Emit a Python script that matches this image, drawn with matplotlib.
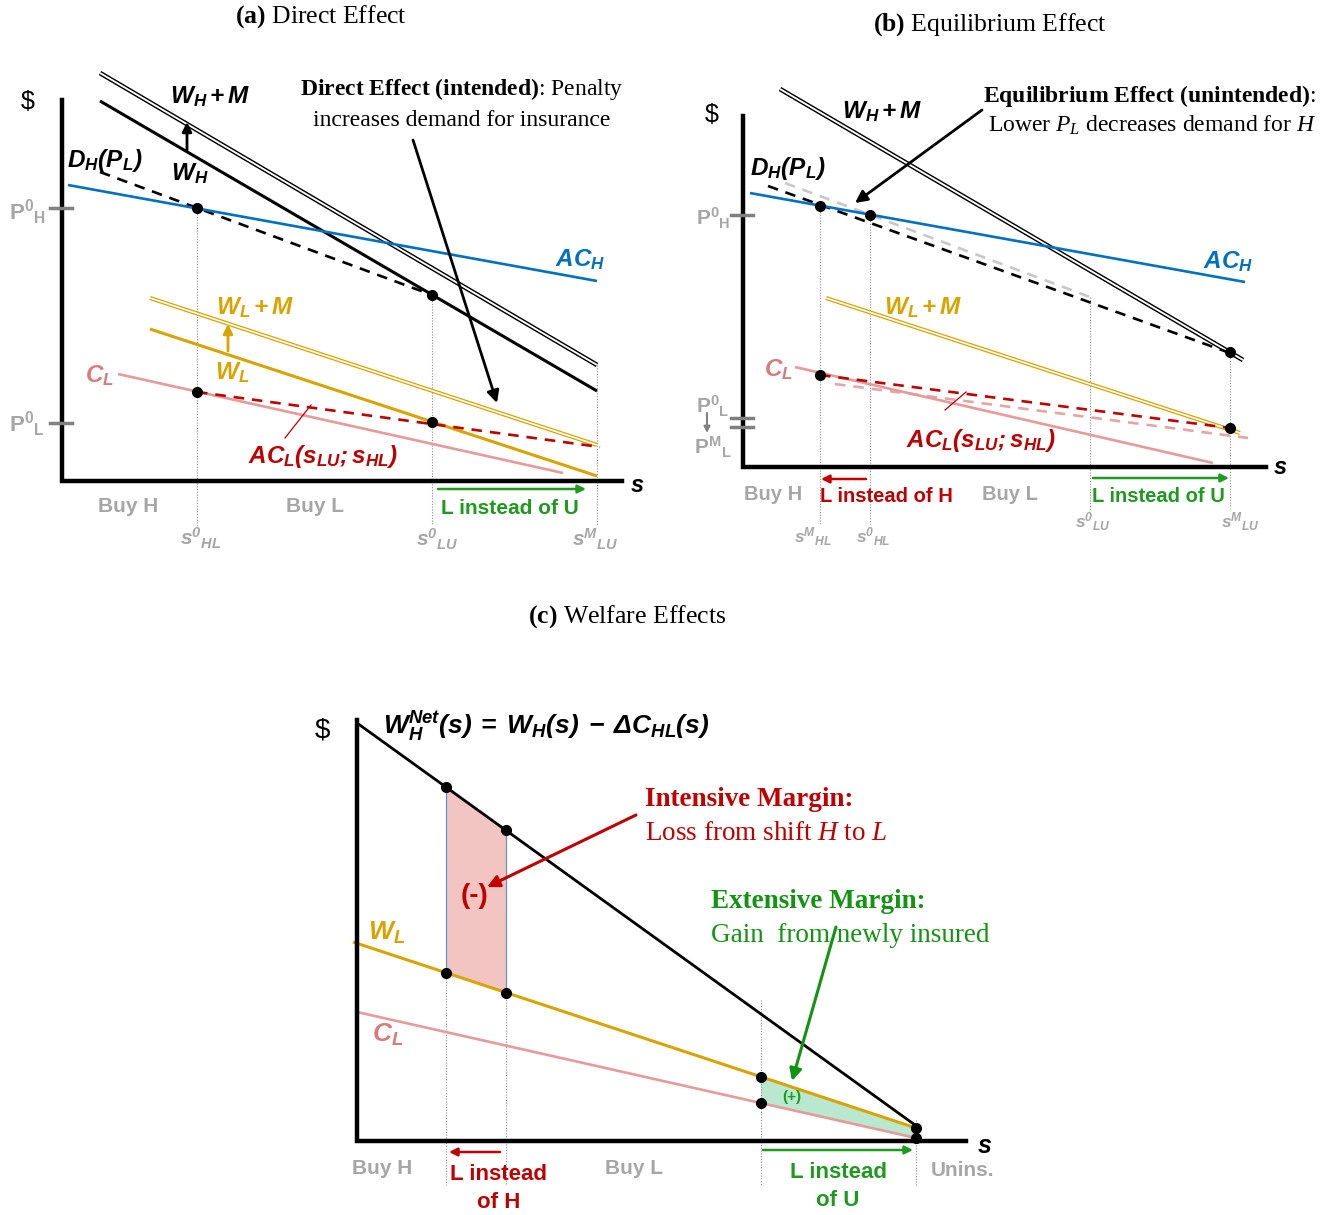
import numpy as np
import matplotlib
matplotlib.use('Agg')
import matplotlib.pyplot as plt
from matplotlib.patches import Polygon

plt.rcParams['font.family'] = ['Liberation Serif', 'DejaVu Serif']
plt.rcParams['mathtext.fontset'] = 'custom'
plt.rcParams['mathtext.rm'] = 'Liberation Serif'
plt.rcParams['mathtext.it'] = 'Liberation Serif:italic'
plt.rcParams['mathtext.bf'] = 'Liberation Serif:bold'
plt.rcParams['mathtext.sf'] = 'Liberation Sans:bold:italic'
plt.rcParams['mathtext.tt'] = 'Liberation Sans:bold'

# colours
BLUE = '#0070C0'
GOLD = '#D9A300'
PINK = '#E89A9A'
PINKTXT = '#D97B7B'
RED = '#C00000'
GREEN = '#1E9A1E'
GRAY = '#A6A6A6'

# ---- panel (a) curves: ([s0, s1], [$0, $1]) in picture units
a_WHM = ([100, 597], [73, 365])
a_WH = ([100, 597], [101, 391])
a_DH = ([100, 432], [172, 295])
a_ACH = ([68, 597], [185, 281])
a_WLM = ([150, 597], [298, 445])
a_WL = ([150, 597], [329, 476])
a_CL = ([118, 563], [374, 473])
a_ACL = ([197, 600], [392, 447])
a_s = [197, 432, 597]          # s0_HL, s0_LU, sM_LU
a_P = [208, 423]               # P0_H, P0_L

# ---- panel (b)
b_WHM = ([780, 1243], [89, 360])
b_DH = ([768, 1230], [186, 353])
b_DH0 = ([785, 1090], [183, 297])
b_ACH = ([750, 1245], [193, 282])
b_WLM = ([826, 1240], [298, 433])
b_CL = ([795, 1213], [367, 463])
b_ACL = ([820, 1230], [375, 428])
b_ACL0 = ([835, 1248], [384, 438])
b_s = [820, 870, 1090, 1230]   # sM_HL, s0_HL, s0_LU, sM_LU
b_P = [215, 418, 427]          # P0_H, P0_L, PM_L

# ---- panel (c)
c_WHN = ([357, 915], [723, 1125])
c_WL = ([353, 916], [942, 1128])
c_CL = ([357, 916], [1012, 1138])
c_s = [446, 506, 761, 916]

fig = plt.figure(figsize=(13.37, 12.15), dpi=100)
ax = fig.add_axes([0, 0, 1, 1])
ax.set_xlim(0, 1337)
ax.set_ylim(1215, 0)
ax.axis('off')


def at(line, s):
    return np.interp(s, line[0], line[1])


def line(l, color, lw=1.9, ls='-', z=3):
    ax.plot(l[0], l[1], color=color, lw=lw, ls=ls, zorder=z, solid_capstyle='butt')


def dline(l, color, w=3.4):
    ax.plot(l[0], l[1], color=color, lw=w, zorder=3, solid_capstyle='butt')
    ax.plot(l[0], l[1], color='white', lw=w * 0.4, zorder=3, solid_capstyle='butt')


def dot(x, y):
    ax.plot(x, y, 'o', color='black', ms=7, zorder=6)


def vdot(x, y0, y1):
    ax.plot([x, x], [y0, y1], color='#8c8c8c', lw=0.8, ls=(0, (1, 1.5)), zorder=2)


def arrow(x0, y0, x1, y1, color, lw=1.8, ms=16):
    ax.annotate('', xy=(x1, y1), xytext=(x0, y0),
                arrowprops=dict(arrowstyle='-|>', color=color, lw=lw,
                                mutation_scale=ms, shrinkA=0, shrinkB=0), zorder=5)


def axes_lines(x0, y0, y1, x1):
    ax.plot([x0, x0, x1], [y0, y1, y1], color='black', lw=3.2, zorder=4,
            solid_joinstyle='miter')


def t(x, y, s, color='black', size=16, ha='center', **kw):
    ax.text(x, y, s, color=color, fontsize=size, ha=ha, va='center', **kw)


def sans(x, y, s, color, size=14):
    t(x, y, s, color=color, size=size, family='Liberation Sans', weight='bold')


def tick(y, x):
    ax.plot([x - 12, x + 10], [y, y], color='#808080', lw=2.5, zorder=5)


# ================= panel (a)
t(321, 17, r'$\mathbf{(a)}$ Direct Effect', size=18.5)
axes_lines(62, 100, 481, 622)
t(28, 102, '$', size=18, family='Liberation Sans')
t(637, 486, r'$\mathsf{s}$', size=17)
for p in a_P:
    tick(p, 62)
t(27, 212, r'$\mathtt{P^0{}_H}$', color=GRAY, size=16)
t(27, 424, r'$\mathtt{P^0{}_L}$', color=GRAY, size=16)

vdot(a_s[0], at(a_ACH, a_s[0]), 526)
vdot(a_s[1], at(a_DH, a_s[1]), 524)
vdot(a_s[2], at(a_WHM, a_s[2]), 526)

dline(a_WHM, 'black')
line(a_WH, 'black', lw=2.2)
line(a_DH, 'black', lw=1.9, ls=(0, (4, 3)))
line(a_ACH, BLUE)
dline(a_WLM, GOLD, w=3.0)
line(a_WL, GOLD, lw=2.2)
line(a_CL, PINK, lw=1.9)
line(a_ACL, RED, lw=1.9, ls=(0, (4, 3)))

dot(a_s[0], at(a_ACH, a_s[0]))
dot(a_s[1], at(a_DH, a_s[1]))
dot(a_s[0], at(a_ACL, a_s[0]))
dot(a_s[1], at(a_WL, a_s[1]))

arrow(187, 150, 187, 122, 'black', lw=2.0, ms=14)
arrow(228, 351, 228, 324, GOLD, lw=2.0, ms=14)
arrow(413, 140, 497, 403, 'black', lw=2.0, ms=18)
ax.plot([285, 311], [438, 405], color=RED, lw=0.9, zorder=3)

t(210, 97, r'$\mathsf{W_H + M}$', size=17.5)
t(190, 174, r'$\mathsf{W_H}$', size=17.5)
t(105, 160, r'$\mathsf{D_H(P_L)}$', size=17.5)
t(580, 260, r'$\mathsf{AC_H}$', color=BLUE, size=17.5)
t(255, 308, r'$\mathsf{W_L + M}$', color=GOLD, size=17.5)
t(232, 373, r'$\mathsf{W_L}$', color=GOLD, size=17.5)
t(100, 376, r'$\mathsf{C_L}$', color=PINKTXT, size=17.5)
t(323, 457, r'$\mathsf{AC_L(s_{LU};s_{HL})}$', color=RED, size=17.5)

t(462, 89, r'$\mathbf{Direct\ Effect\ (intended)}$: Penalty', size=17)
t(462, 120, 'increases demand for insurance', size=17)

sans(128, 506, 'Buy H', GRAY, 15)
sans(315, 506, 'Buy L', GRAY, 15)
sans(510, 508, 'L instead of U', GREEN, 15)
arrow(438, 489, 586, 489, GREEN, lw=1.8, ms=12)
t(201, 538, r'$\mathsf{s^0{}_{HL}}$', color=GRAY, size=15)
t(437, 539, r'$\mathsf{s^0{}_{LU}}$', color=GRAY, size=15)
t(595, 539, r'$\mathsf{s^M{}_{LU}}$', color=GRAY, size=15)

# ================= panel (b)
t(990, 25, r'$\mathbf{(b)}$ Equilibrium Effect', size=18.5)
axes_lines(743, 116, 467, 1266)
t(712, 115, '$', size=18, family='Liberation Sans')
t(1280, 468, r'$\mathsf{s}$', size=17)
for p in b_P:
    tick(p, 743)
t(713, 218, r'$\mathtt{P^0{}_H}$', color=GRAY, size=15)
t(713, 406, r'$\mathtt{P^0{}_L}$', color=GRAY, size=15)
t(713, 447, r'$\mathtt{P^M{}_L}$', color=GRAY, size=15)
arrow(707, 413, 707, 433, '#808080', lw=1.5, ms=9)

vdot(b_s[0], at(b_ACH, b_s[0]), 524)
vdot(b_s[1], at(b_ACH, b_s[1]), 524)
vdot(b_s[2], at(b_DH0, b_s[2]), 510)
vdot(b_s[3], at(b_WHM, b_s[3]), 508)

line(b_DH0, '#C8C8C8', lw=1.9, ls=(0, (4, 3)))
line(b_ACL0, '#E4A5A5', lw=1.9, ls=(0, (4, 3)))
dline(b_WHM, 'black')
line(b_DH, 'black', lw=1.9, ls=(0, (4, 3)))
line(b_ACH, BLUE)
dline(b_WLM, GOLD, w=3.0)
line(b_CL, PINK, lw=1.9)
line(b_ACL, RED, lw=1.9, ls=(0, (4, 3)))

dot(b_s[0], at(b_ACH, b_s[0]))
dot(b_s[1], at(b_ACH, b_s[1]))
dot(b_s[3], at(b_WHM, b_s[3]))
dot(b_s[3], at(b_ACL, b_s[3]))
dot(b_s[0], at(b_ACL, b_s[0]))

arrow(982, 110, 855, 203, 'black', lw=2.0, ms=18)
ax.plot([945, 966], [410, 392], color=RED, lw=0.9, zorder=3)

t(882, 112, r'$\mathsf{W_H + M}$', size=17.5)
t(788, 169, r'$\mathsf{D_H(P_L)}$', size=17.5)
t(1228, 262, r'$\mathsf{AC_H}$', color=BLUE, size=17.5)
t(923, 308, r'$\mathsf{W_L + M}$', color=GOLD, size=17.5)
t(779, 370, r'$\mathsf{C_L}$', color=PINKTXT, size=17.5)
t(981, 440, r'$\mathsf{AC_L(s_{LU};s_{HL})}$', color=RED, size=17.5)

t(1150, 96, r'$\mathbf{Equilibrium\ Effect\ (unintended)}$:', size=17)
t(1152, 125, r'Lower $P_L$ decreases demand for $H$', size=17)

sans(773, 495, 'Buy H', GRAY, 14.5)
sans(1010, 494, 'Buy L', GRAY, 14.5)
sans(886, 497, 'L instead of H', RED, 14.5)
sans(1158, 496, 'L instead of U', GREEN, 14.5)
arrow(866, 479, 821, 479, RED, lw=1.8, ms=12)
arrow(1093, 478, 1229, 478, GREEN, lw=1.8, ms=12)
t(813, 537, r'$\mathsf{s^M{}_{HL}}$', color=GRAY, size=12.5)
t(873, 537, r'$\mathsf{s^0{}_{HL}}$', color=GRAY, size=12.5)
t(1093, 522, r'$\mathsf{s^0{}_{LU}}$', color=GRAY, size=12.5)
t(1240, 522, r'$\mathsf{s^M{}_{LU}}$', color=GRAY, size=12.5)

# ================= panel (c)
t(627, 617, r'$\mathbf{(c)}$ Welfare Effects', size=18.5)
axes_lines(357, 720, 1141, 966)
t(322, 730, '$', size=20, family='Liberation Sans')
t(985, 1147, r'$\mathsf{s}$', size=18)

vdot(c_s[0], at(c_WHN, c_s[0]), 1185)
vdot(c_s[1], at(c_WHN, c_s[1]), 1185)
vdot(c_s[2], 1000, 1185)
vdot(c_s[3], 1120, 1185)

loss = Polygon([(c_s[0], at(c_WHN, c_s[0])), (c_s[1], at(c_WHN, c_s[1])),
                (c_s[1], at(c_WL, c_s[1])), (c_s[0], at(c_WL, c_s[0]))],
               closed=True, facecolor='#F2C4C2', edgecolor='none', zorder=1)
ax.add_patch(loss)
for s in c_s[:2]:
    ax.plot([s, s], [at(c_WHN, s), at(c_WL, s)], color='#5B8FD0', lw=0.8, zorder=2)
gs = np.array([c_s[2], c_s[3]])
gain = Polygon(list(zip(gs, at(c_WL, gs))) + list(zip(gs[::-1], at(c_CL, gs[::-1]))),
               closed=True, facecolor='#B9E8CE', edgecolor='none', zorder=1)
ax.add_patch(gain)

line(c_WHN, 'black', lw=2.0)
line(c_WL, GOLD, lw=2.2)
line(c_CL, PINK, lw=1.9)

dot(c_s[0], at(c_WHN, c_s[0]))
dot(c_s[1], at(c_WHN, c_s[1]))
dot(c_s[0], at(c_WL, c_s[0]))
dot(c_s[1], at(c_WL, c_s[1]))
dot(c_s[2], at(c_WL, c_s[2]))
dot(c_s[2], at(c_CL, c_s[2]))
dot(c_s[3], at(c_WL, c_s[3]))
dot(c_s[3], at(c_CL, c_s[3]))

t(546, 727, r'$\mathsf{W_H^{Net}(s)\ =\ W_H(s)\ -\ \Delta C_{HL}(s)}$', size=19)
t(387, 933, r'$\mathsf{W_L}$', color=GOLD, size=19)
t(388, 1035, r'$\mathsf{C_L}$', color=PINKTXT, size=19)
sans(475, 896, '(-)', RED, 20)
sans(792, 1097, '(+)', GREEN, 11)

t(645, 800, 'Intensive Margin:', color=RED, size=19.5, ha='left', weight='bold')
t(645, 833, r'Loss from shift $H$ to $L$', color=RED, size=19.5, ha='left')
arrow(636, 815, 487, 887, RED, lw=2.2, ms=18)
t(711, 902, 'Extensive Margin:', color='#129412', size=19.5, ha='left', weight='bold')
t(711, 935, 'Gain  from newly insured', color='#129412', size=19.5, ha='left')
arrow(836, 927, 792, 1081, '#129412', lw=2.2, ms=18)

sans(382, 1168, 'Buy H', GRAY, 15)
sans(634, 1168, 'Buy L', GRAY, 15)
sans(963, 1170, 'Unins.', GRAY, 15)
sans(499, 1175, 'L instead', RED, 16)
sans(499, 1202, 'of H', RED, 16)
sans(838, 1172, 'L instead', GREEN, 16)
sans(838, 1200, 'of U', GREEN, 16)
arrow(500, 1152, 449, 1152, RED, lw=1.8, ms=12)
arrow(763, 1150, 913, 1150, GREEN, lw=1.8, ms=12)

fig.savefig('out.png', dpi=100)
